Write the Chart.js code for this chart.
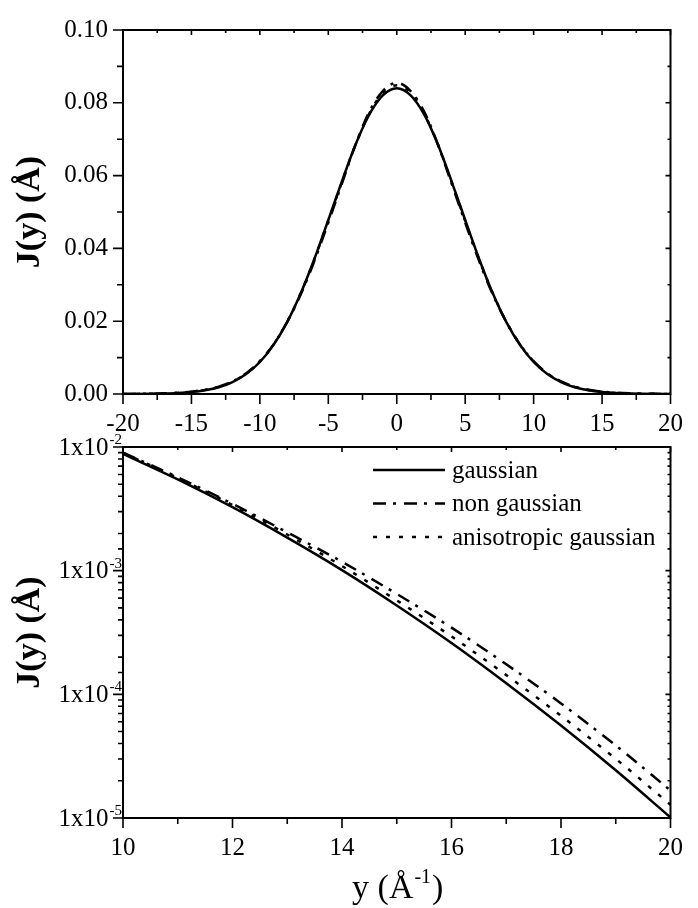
<!DOCTYPE html>
<html>
<head>
<meta charset="utf-8">
<script src="https://cdn.jsdelivr.net/npm/chart.js@4.4.1/dist/chart.umd.min.js"></script>
<style>
body { margin: 0; background: #fff; }
#wrap { position: relative; width: 698px; height: 908px; }
canvas { position: absolute; left: 0; }
#top { top: 0; }
#bottom { top: 420px; }
</style>
</head>
<body>
<div id="wrap">
<canvas id="top" width="698" height="440"></canvas>
<canvas id="bottom" width="698" height="488"></canvas>
</div>
<script>
// momentum y (1/Angstrom) and J(y)
const yGrid = [-20, -19, -18, -17, -16, -15, -14, -13, -12, -11, -10, -9, -8, -7, -6, -5, -4, -3, -2, -1, 0,
    1, 2, 3, 4, 5, 6, 7, 8, 9, 10, 11, 12, 13, 14, 15, 16, 17, 18, 19, 20];
const gaussian = [0.0000101, 0.0000243, 0.0000559, 0.000123, 0.000260, 0.000523, 0.00101, 0.00185, 0.00326, 0.00547,
    0.00879, 0.0135, 0.0198, 0.0278, 0.0373, 0.0478, 0.0585, 0.0686, 0.0768, 0.0821, 0.0840,
    0.0821, 0.0768, 0.0686, 0.0585, 0.0478, 0.0373, 0.0278, 0.0198, 0.0135, 0.00879,
    0.00547, 0.00326, 0.00185, 0.00101, 0.000523, 0.000260, 0.000123, 0.0000559, 0.0000243, 0.0000101];
const nonGaussian = [0.0000167, 0.0000386, 0.0000844, 0.000175, 0.000346, 0.000649, 0.00118, 0.00204, 0.00347, 0.00569,
    0.00901, 0.01364, 0.0198, 0.0275, 0.0367, 0.0471, 0.0579, 0.0686, 0.0776, 0.0833, 0.0855,
    0.0833, 0.0776, 0.0686, 0.0579, 0.0471, 0.0367, 0.0275, 0.0198, 0.01364, 0.00901,
    0.00569, 0.00347, 0.00204, 0.00118, 0.000649, 0.000346, 0.000175, 0.0000844, 0.0000386, 0.0000167];
const anisotropic = [0.0000128, 0.0000301, 0.0000671, 0.000143, 0.000294, 0.000575, 0.00109, 0.00196, 0.00339, 0.00563,
    0.00897, 0.01364, 0.0199, 0.0278, 0.0372, 0.0476, 0.0583, 0.0686, 0.0771, 0.0828, 0.0848,
    0.0828, 0.0771, 0.0686, 0.0583, 0.0476, 0.0372, 0.0278, 0.0199, 0.01364, 0.00897,
    0.00563, 0.00339, 0.00196, 0.00109, 0.000575, 0.000294, 0.000143, 0.0000671, 0.0000301, 0.0000128];
const seriesNames = ["gaussian", "non gaussian", "anisotropic gaussian"];

const FONT = "'Liberation Serif', 'Times New Roman', serif";

function pairs(vals, fromY) {
    let out = [];
    for (let i = 0; i < yGrid.length; i++) {
        if (yGrid[i] >= fromY) out.push({ x: yGrid[i], y: vals[i] });
    }
    return out;
}

function makeSets(fromY) {
    const styles = [[], [13, 7, 3, 8], [4, 9]];
    return [gaussian, nonGaussian, anisotropic].map(function(vals, i) {
        return {
            label: seriesNames[i],
            data: pairs(vals, fromY),
            borderColor: '#000',
            borderWidth: 2.5,
            borderDash: styles[i],
            pointRadius: 0,
            fill: false,
            cubicInterpolationMode: 'monotone'
        };
    });
}

function midValues(ticks) {
    let out = [];
    for (let i = 0; i < ticks.length - 1; i++) out.push((ticks[i].value + ticks[i + 1].value) / 2);
    return out;
}

function isDecade(v) {
    const l = Math.log10(v);
    return Math.abs(l - Math.round(l)) < 1e-6;
}

// box round the plot and the tick marks on all four sides
const frame = {
    id: 'frame',
    afterDraw(chart) {
        const ctx = chart.ctx, a = chart.chartArea;
        const xs = chart.scales.x, ys = chart.scales.y;
        const logY = ys.type === 'logarithmic';
        ctx.save();
        ctx.strokeStyle = '#000';
        ctx.lineWidth = 2;
        ctx.strokeRect(a.left, a.top, a.right - a.left, a.bottom - a.top);
        ctx.lineWidth = 1.6;
        ctx.beginPath();
        function xMark(v, out, inn) {
            const p = xs.getPixelForValue(v);
            ctx.moveTo(p, a.bottom); ctx.lineTo(p, a.bottom + out);
            ctx.moveTo(p, a.top); ctx.lineTo(p, a.top + inn);
        }
        function yMark(v, out, inn) {
            const p = ys.getPixelForValue(v);
            ctx.moveTo(a.left, p); ctx.lineTo(a.left - out, p);
            ctx.moveTo(a.right, p); ctx.lineTo(a.right - inn, p);
        }
        xs.ticks.forEach(t => xMark(t.value, 10, 5));
        midValues(xs.ticks).forEach(v => xMark(v, 6, 3));
        if (logY) {
            ys.ticks.forEach(t => isDecade(t.value) ? yMark(t.value, 10, 5) : yMark(t.value, 5, 3));
        } else {
            ys.ticks.forEach(t => yMark(t.value, 10, 5));
            midValues(ys.ticks).forEach(v => yMark(v, 6, 3));
        }
        ctx.stroke();

        ctx.fillStyle = '#000';
        if (logY) {
            ys.ticks.forEach(function(t) {
                if (!isDecade(t.value)) return;
                const p = ys.getPixelForValue(t.value);
                const exp = String(Math.round(Math.log10(t.value)));
                ctx.font = '15px ' + FONT;
                ctx.textAlign = 'right';
                ctx.textBaseline = 'alphabetic';
                const w = ctx.measureText(exp).width;
                ctx.fillText(exp, a.left - 1, p - 3);
                ctx.font = '25px ' + FONT;
                ctx.textBaseline = 'middle';
                ctx.fillText('1x10', a.left - 2 - w, p + 1);
            });
        }
        ctx.restore();
    }
};

// legend inside the lower panel and the x title with its superscript
const lowerExtras = {
    id: 'lowerExtras',
    afterDraw(chart) {
        const ctx = chart.ctx, a = chart.chartArea;
        ctx.save();
        chart.data.datasets.forEach(function(ds, i) {
            const yy = a.top + 23 + i * 33.5;
            ctx.strokeStyle = '#000';
            ctx.lineWidth = ds.borderWidth;
            ctx.setLineDash(ds.borderDash);
            ctx.beginPath();
            ctx.moveTo(a.left + 250, yy);
            ctx.lineTo(a.left + 322, yy);
            ctx.stroke();
            ctx.setLineDash([]);
            ctx.fillStyle = '#000';
            ctx.font = '25px ' + FONT;
            ctx.textAlign = 'left';
            ctx.textBaseline = 'middle';
            ctx.fillText(ds.label, a.left + 329, yy + 1);
        });

        const base = a.bottom + 80;
        const big = '34px ' + FONT, small = '20px ' + FONT;
        ctx.font = big;
        const w1 = ctx.measureText('y (Å').width, w3 = ctx.measureText(')').width;
        ctx.font = small;
        const w2 = ctx.measureText('-1').width;
        let x = (a.left + a.right) / 2 - (w1 + w2 + w3) / 2;
        ctx.textAlign = 'left';
        ctx.textBaseline = 'alphabetic';
        ctx.font = big;
        ctx.fillText('y (Å', x, base);
        ctx.font = small;
        ctx.fillText('-1', x + w1 + 1, base - 15);
        ctx.font = big;
        ctx.fillText(')', x + w1 + w2 + 2, base);
        ctx.restore();
    }
};

function yTitle() {
    return {
        display: true,
        text: 'J(y) (Å)',
        color: '#000',
        font: { family: FONT, size: 34, weight: 'bold' },
        padding: { top: 10, bottom: 0 }
    };
}

new Chart(document.getElementById('top'), {
    type: 'line',
    data: { datasets: makeSets(-20) },
    options: {
        responsive: false,
        animation: false,
        layout: { padding: { top: 25, right: 15, left: 0, bottom: 0 } },
        plugins: { legend: { display: false }, tooltip: { enabled: false } },
        scales: {
            x: {
                type: 'linear', min: -20, max: 20,
                grid: { display: false, drawTicks: false },
                border: { display: false },
                ticks: { stepSize: 5, padding: 15, color: '#000', maxRotation: 0, autoSkip: false,
                    font: { family: FONT, size: 25 }, callback: v => String(v) },
                afterFit(s) { s.height = 46; }
            },
            y: {
                type: 'linear', min: 0, max: 0.1,
                grid: { display: false, drawTicks: false },
                border: { display: false },
                title: yTitle(),
                ticks: { stepSize: 0.02, padding: 15, color: '#000',
                    font: { family: FONT, size: 25 }, callback: v => v.toFixed(2) },
                afterFit(s) { s.width = 123; }
            }
        }
    },
    plugins: [frame]
});

new Chart(document.getElementById('bottom'), {
    type: 'line',
    data: { datasets: makeSets(10) },
    options: {
        responsive: false,
        animation: false,
        layout: { padding: { top: 27, right: 15, left: 0, bottom: 0 } },
        plugins: { legend: { display: false }, tooltip: { enabled: false } },
        scales: {
            x: {
                type: 'linear', min: 10, max: 20,
                grid: { display: false, drawTicks: false },
                border: { display: false },
                ticks: { stepSize: 2, padding: 15, color: '#000', maxRotation: 0, autoSkip: false,
                    font: { family: FONT, size: 25 }, callback: v => String(v) },
                afterFit(s) { s.height = 90; }
            },
            y: {
                type: 'logarithmic', min: 1e-5, max: 1e-2,
                grid: { display: false, drawTicks: false },
                border: { display: false },
                title: yTitle(),
                ticks: { display: false },
                afterFit(s) { s.width = 123; }
            }
        }
    },
    plugins: [frame, lowerExtras]
});
</script>
</body>
</html>
